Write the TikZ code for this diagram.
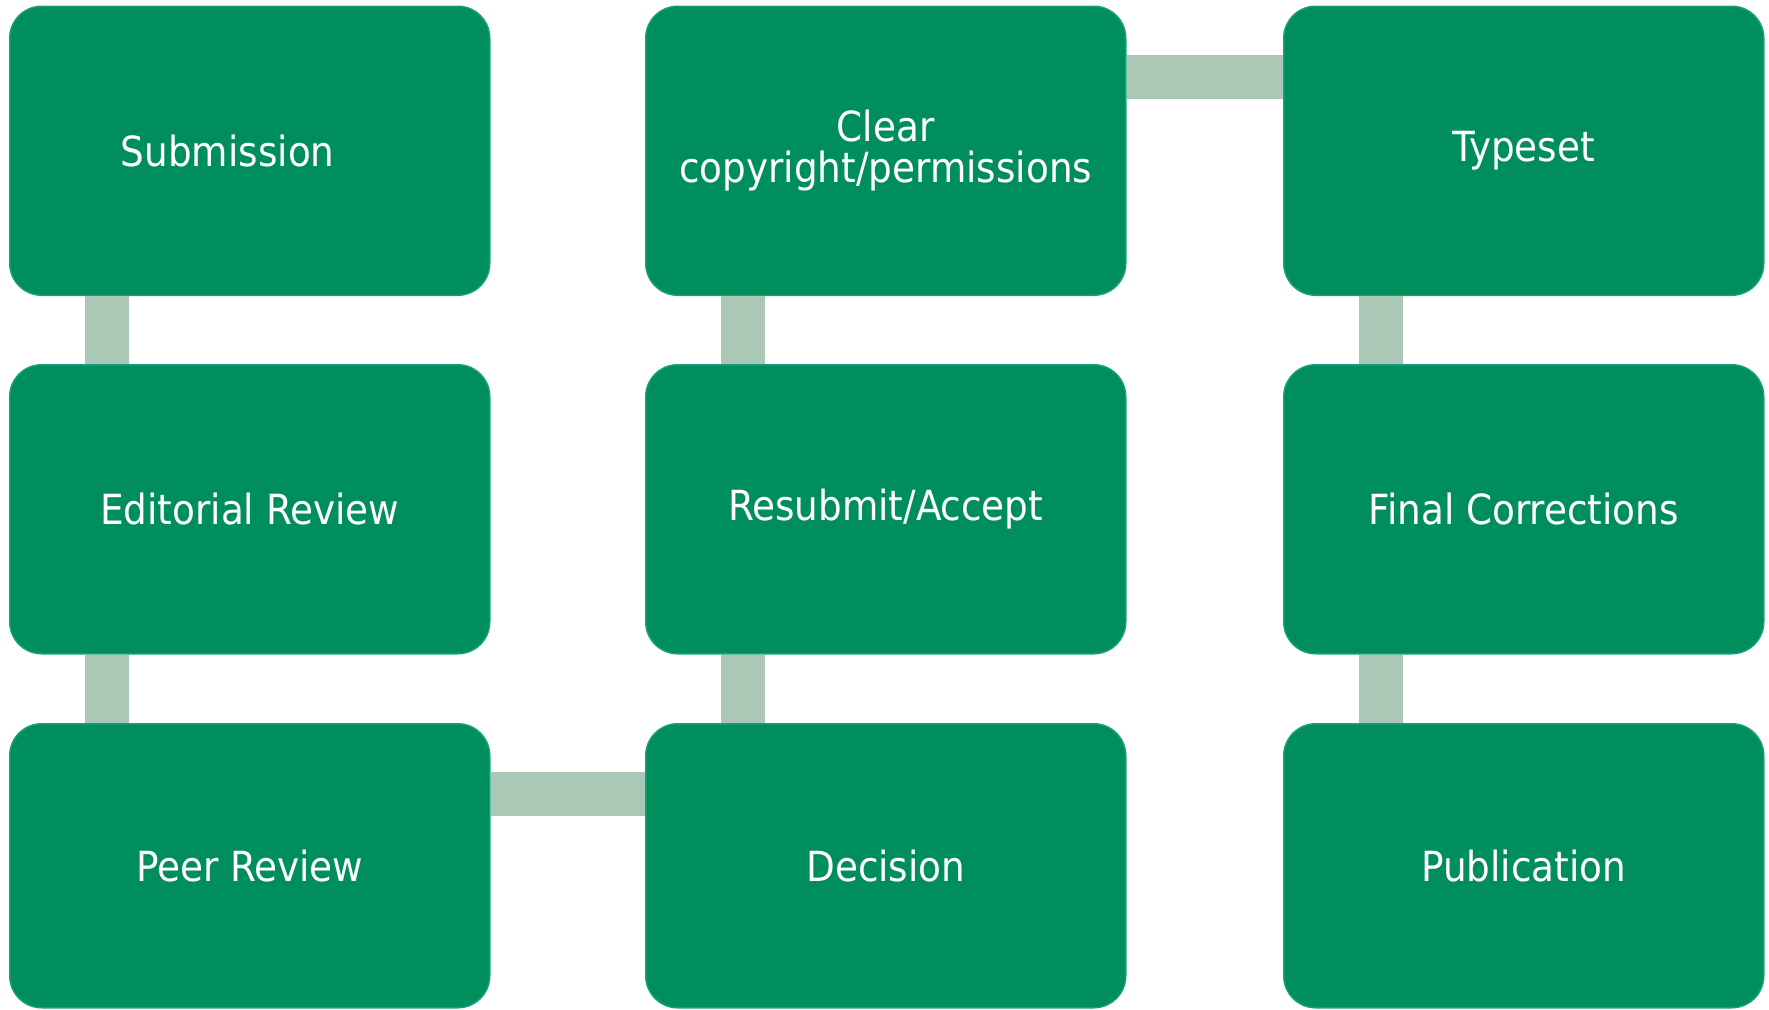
\documentclass[tikz,border=0pt]{standalone}
\usepackage{fontspec}
\setmainfont{DejaVu Sans Condensed}
\usetikzlibrary{calc}
\definecolor{boxgreen}{RGB}{0,143,92}
\definecolor{boxedge}{RGB}{22,158,132}
\definecolor{connc}{RGB}{171,200,183}
\begin{document}
\begin{tikzpicture}[x=1pt,y=-1pt,
  stage/.style={draw=boxedge, line width=1.5pt, fill=boxgreen, rounded corners=32pt,
    text=white, font=\fontsize{41.5}{41}\selectfont, align=center, inner sep=0pt,
    anchor=north west, minimum width=480pt, minimum height=289pt},
  lastrow/.style={minimum height=284pt},
  conn/.style={draw=connc, line width=44pt}]
\fill[white] (0,0) rectangle (1769,1009);
\useasboundingbox (0,0) rectangle (1769,1009);
% column 1
\node[stage] (sub) at (9,5.5) {Submission\hspace*{44pt}};
\node[stage] (edr) at (9,364) {Editorial Review};
\node[stage,lastrow] (peer) at (9,723) {Peer Review};
% column 2
\node[stage] (clr) at (645,5.5) {Clear\\copyright/permissions};
\node[stage] (res) at (645,364) {Resubmit/Accept};
\node[stage,lastrow] (dec) at (645,723) {Decision};
% column 3
\node[stage] (typ) at (1283,5.5) {Typeset};
\node[stage] (fin) at (1283,364) {Final Corrections};
\node[stage,lastrow] (pub) at (1283,723) {Publication};
% connectors
\draw[conn] ([xshift=98pt]sub.south west) -- ([xshift=98pt]edr.north west);
\draw[conn] ([xshift=98pt]edr.south west) -- ([xshift=98pt]peer.north west);
\draw[conn] ([yshift=-71pt]peer.north east) -- ([yshift=-71pt]dec.north west);
\draw[conn] ([xshift=98pt]dec.north west) -- ([xshift=98pt]res.south west);
\draw[conn] ([xshift=98pt]res.north west) -- ([xshift=98pt]clr.south west);
\draw[conn] ([yshift=-71pt]clr.north east) -- ([yshift=-71pt]typ.north west);
\draw[conn] ([xshift=98pt]typ.south west) -- ([xshift=98pt]fin.north west);
\draw[conn] ([xshift=98pt]fin.south west) -- ([xshift=98pt]pub.north west);
\end{tikzpicture}
\end{document}
